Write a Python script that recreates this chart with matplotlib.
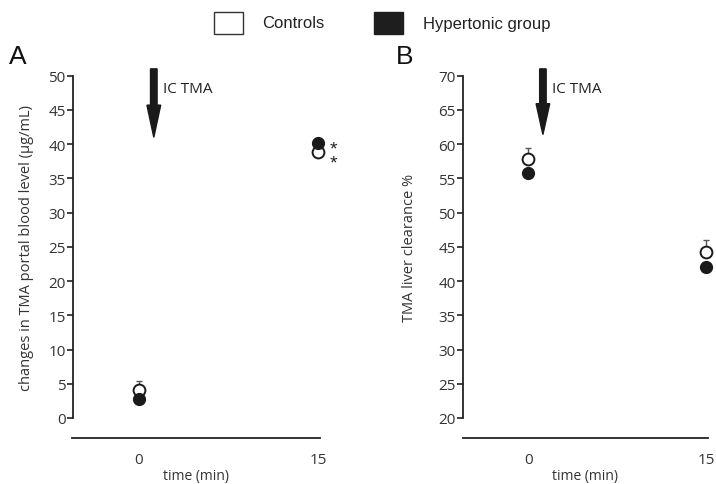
import numpy as np
import matplotlib.pyplot as plt
from matplotlib.patches import Rectangle, FancyArrow

# time points (min)
times = [0, 15]

# panel A: changes in TMA portal blood level (ug/mL)
a_controls = [4.1, 38.9]
a_controls_err = [1.25, 0.0]
a_hyper = [2.8, 40.1]

# panel B: TMA liver clearance %
b_controls = [57.8, 44.2]
b_controls_err = [1.7, 1.85]
b_hyper = [55.8, 42.0]

plt.rcParams['font.family'] = ['Liberation Sans', 'DejaVu Sans']
dark = '#222222'
font2 = ['Open Sans', 'DejaVu Sans']

fig = plt.figure(figsize=(7.16, 4.85), dpi=100)

W, H = 716.0, 485.0


def make_axes(left_px, right_px, ylim, yticks, ylabel, label_x_px):
    ax = fig.add_axes([left_px / W, (H - 419) / H, (right_px - left_px) / W, 342.3 / H])
    ax.set_ylim(*ylim)
    ax.set_xlim(-5.55, 15.15)
    ax.set_yticks(yticks)
    ax.set_xticks(times)
    for s in ['top', 'right']:
        ax.spines[s].set_visible(False)
    ax.spines['left'].set_bounds(ylim[0], ylim[1])
    ax.spines['left'].set_color(dark)
    ax.spines['left'].set_linewidth(1.3)
    ax.spines['bottom'].set_position(('outward', 14.4))
    ax.spines['bottom'].set_color(dark)
    ax.spines['bottom'].set_linewidth(1.3)
    ax.tick_params(axis='y', direction='out', length=4, width=1.2, color=dark,
                   labelsize=11, labelcolor='#333333', pad=1)
    ax.tick_params(axis='x', length=0, labelsize=11, labelcolor='#333333', pad=10)
    for t in ax.get_yticklabels() + ax.get_xticklabels():
        t.set_family(font2)
    ax.set_xlabel('time (min)', fontsize=10, color='#333333', labelpad=1, family=font2)
    ax.set_ylabel(ylabel, fontsize=10.5, color='#333333', family=font2)
    ax.yaxis.set_label_coords((label_x_px - left_px) / (right_px - left_px), 0.5)
    ax.patch.set_visible(False)
    return ax


def draw_points(ax, ctrl, ctrl_err, hyper):
    ax.errorbar(times, ctrl, yerr=[[0] * len(ctrl), ctrl_err], fmt='none',
                ecolor='#555555', elinewidth=1.0, capsize=2.5, capthick=1.0,
                clip_on=False, zorder=2)
    ax.plot(times, ctrl, 'o', ms=8.5, mfc='white', mec='#1a1a1a', mew=1.4,
            clip_on=False, zorder=3)
    ax.plot(times, hyper, 'o', ms=8.5, mfc='#1a1a1a', mec='#1a1a1a',
            clip_on=False, zorder=4)


def draw_arrow(ax, x, y_top, y_bot, text_x, text_y):
    arr = FancyArrow(x, y_top, 0, y_bot - y_top, width=0.55, head_width=1.15,
                     head_length=(y_top - y_bot) * 0.47, length_includes_head=True,
                     color='#1a1a1a', clip_on=False)
    ax.add_patch(arr)
    ax.text(text_x, text_y, 'IC TMA', fontsize=11, color='#222222',
            va='center', ha='left', family=font2)


# panel A
axA = make_axes(72.5, 320, (0, 50), np.arange(0, 51, 5),
                'changes in TMA portal blood level (\u00b5g/mL)', 34)
draw_points(axA, a_controls, a_controls_err, a_hyper)
draw_arrow(axA, 1.25, 51.0, 41.0, 2.0, 48.1)
# significance marks for both groups at 15 min
axA.text(16.25, 38.3, '*\n*', fontsize=14, ha='center', va='center',
         linespacing=0.75, color='#222222')

# panel B
axB = make_axes(462.5, 708, (20, 70), np.arange(20, 71, 5),
                'TMA liver clearance %', 417)
draw_points(axB, b_controls, b_controls_err, b_hyper)
draw_arrow(axB, 1.23, 71.0, 61.4, 2.0, 68.1)

# panel letters
fig.text(9 / W, 1 - 57 / H, 'A', fontsize=19, va='center', ha='left', color='#111111')
fig.text(396 / W, 1 - 57 / H, 'B', fontsize=19, va='center', ha='left', color='#111111')

# legend
fig.patches.append(Rectangle((214 / W, 1 - 35 / H), 29 / W, 22 / H, transform=fig.transFigure,
                             facecolor='white', edgecolor='#333333', lw=1.0))
fig.text(262 / W, 1 - 24 / H, 'Controls', fontsize=12, va='center', ha='left', color='#222222')
fig.patches.append(Rectangle((374 / W, 1 - 35 / H), 29 / W, 22 / H, transform=fig.transFigure,
                             facecolor='#1e1e1e', edgecolor='#1e1e1e', lw=1.0))
fig.text(423 / W, 1 - 24 / H, 'Hypertonic group', fontsize=12, va='center', ha='left', color='#222222')

fig.savefig('out.png', dpi=100)
